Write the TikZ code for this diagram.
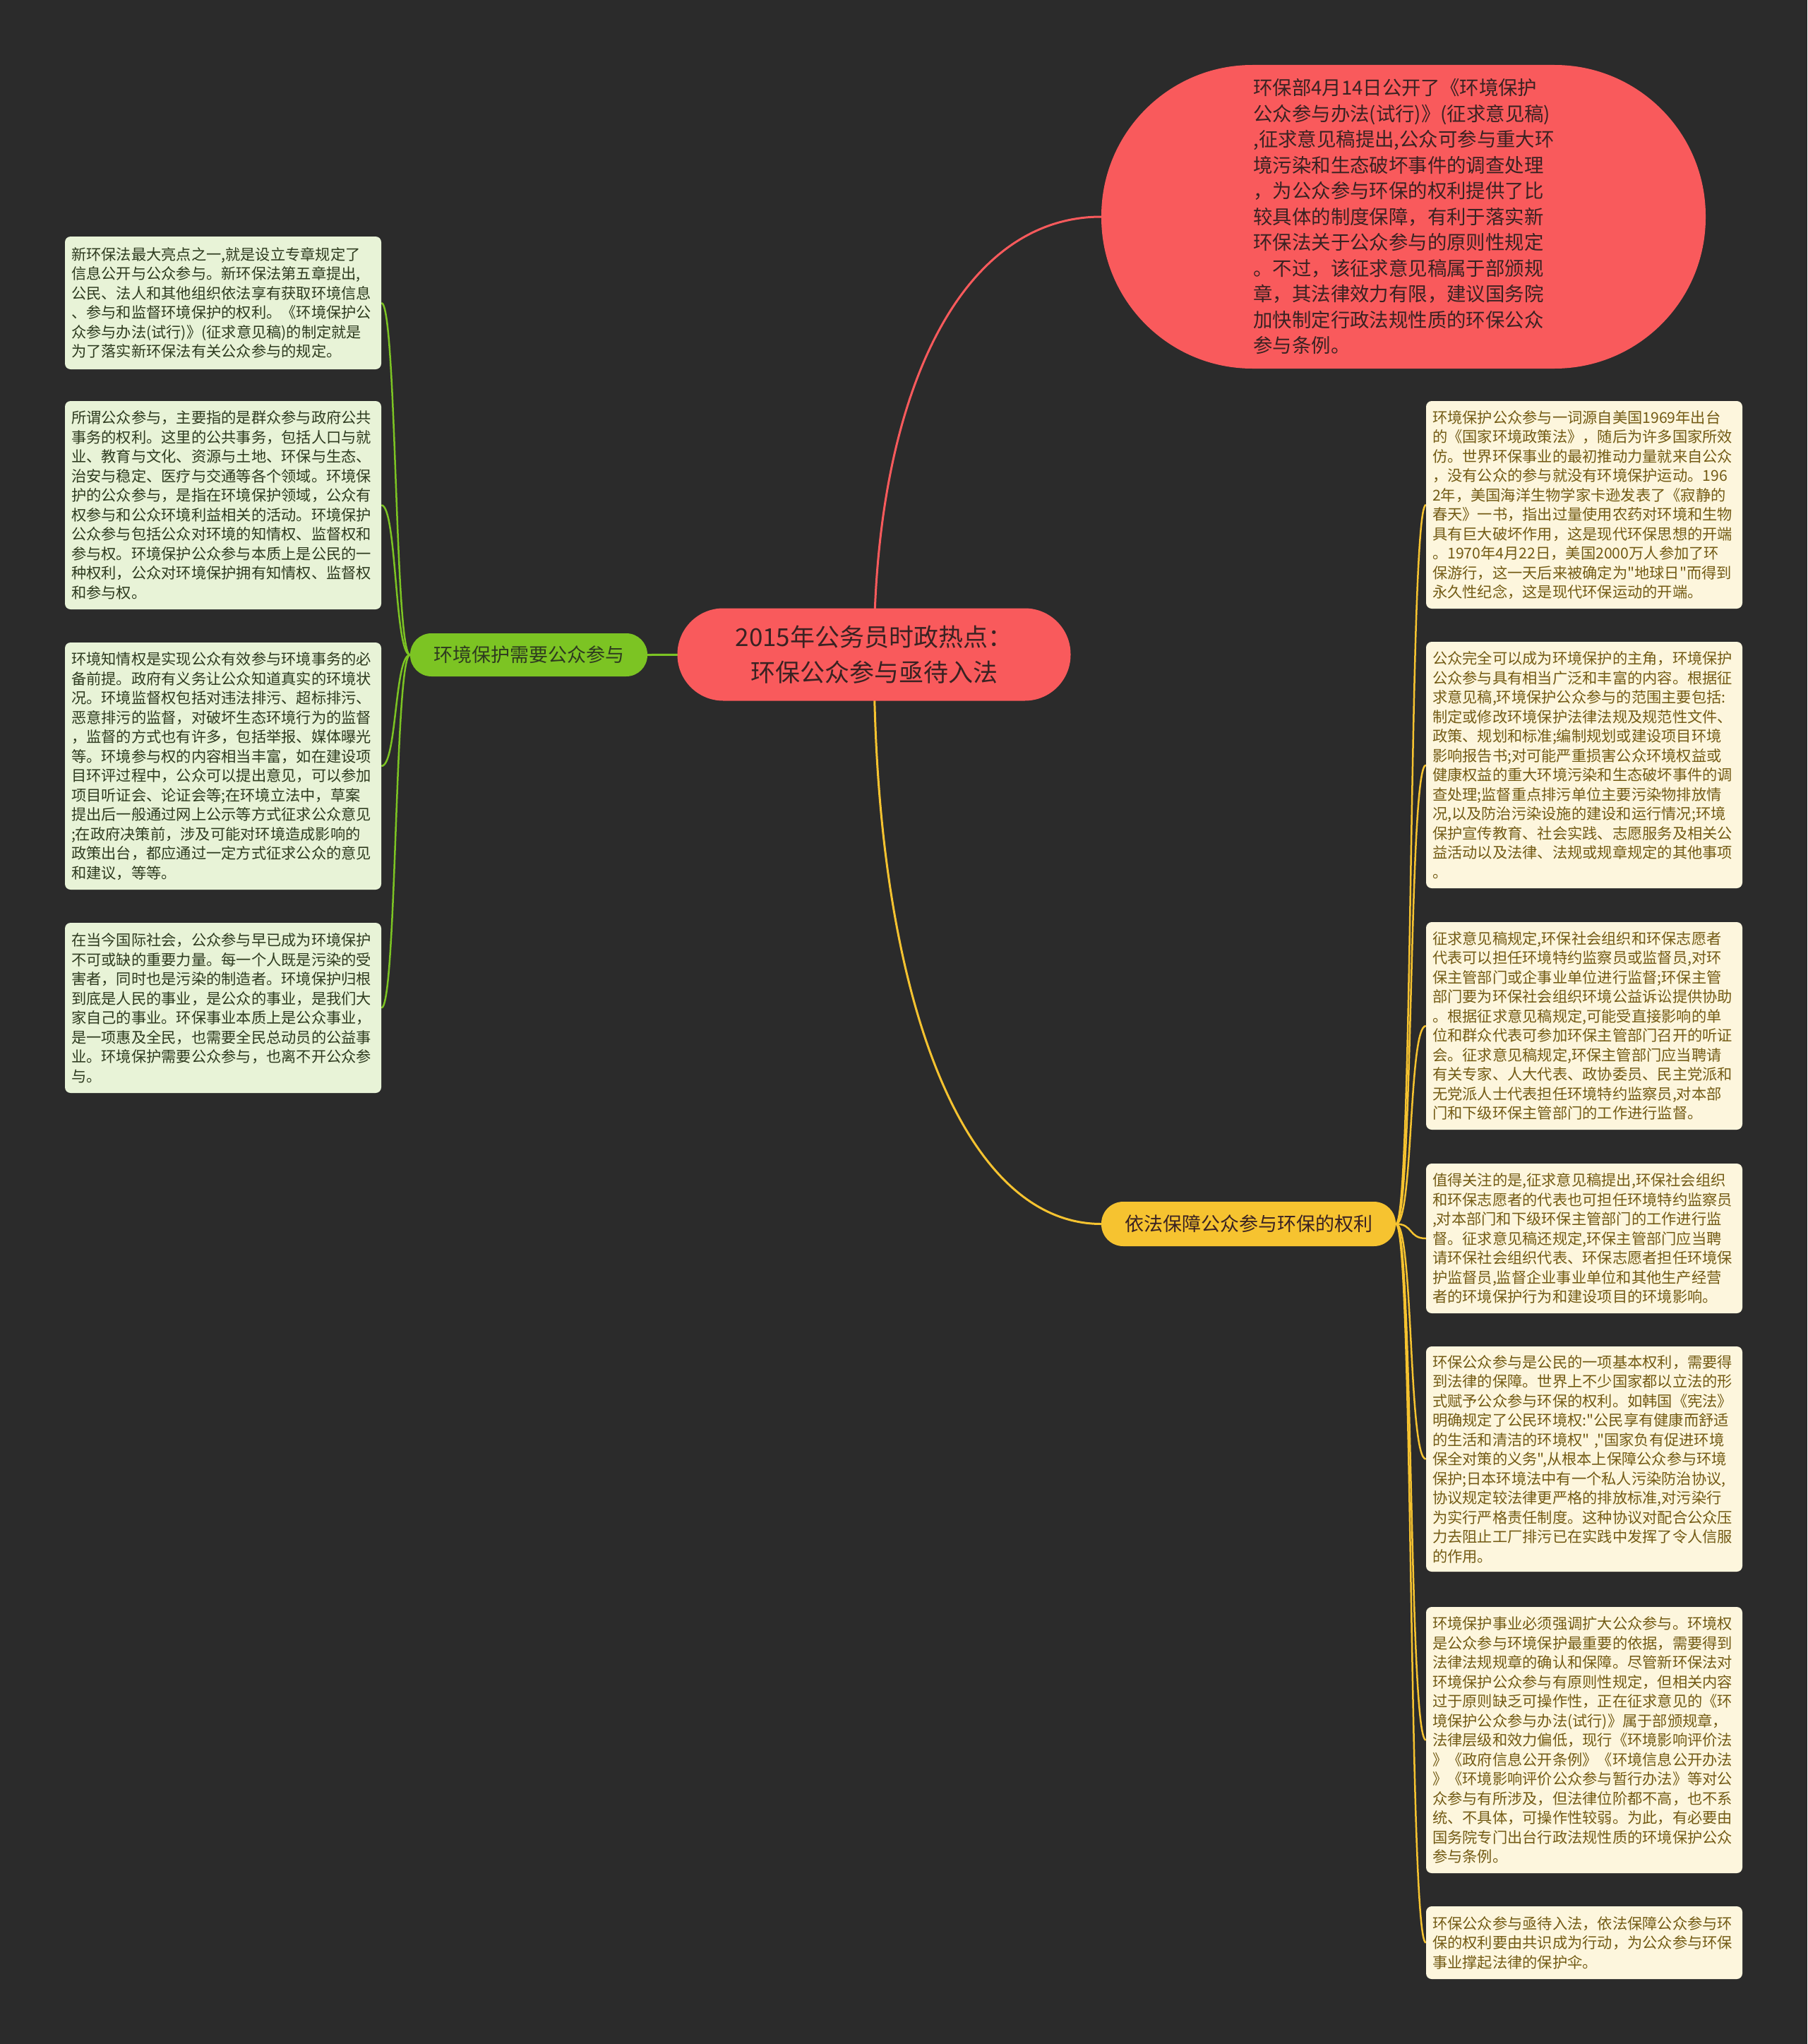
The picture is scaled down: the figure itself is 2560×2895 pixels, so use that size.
\documentclass[tikz,border=0pt]{standalone}
\usepackage{fontspec}
\newfontfamily\cjk{Noto Sans CJK SC}
\pgfdeclarelayer{bg}
\pgfdeclarelayer{edges}
\pgfsetlayers{bg,edges,main}
\definecolor{bgc}{HTML}{2B2B2B}
\definecolor{redc}{HTML}{F95A5C}
\definecolor{grnc}{HTML}{7CC423}
\definecolor{yelc}{HTML}{F6C330}
\definecolor{lfill}{HTML}{E8F3D7}
\definecolor{rfill}{HTML}{FDF6DD}
\definecolor{ltext}{HTML}{2E3B1F}
\definecolor{rtext}{HTML}{735B14}
\definecolor{darktext}{HTML}{3A2222}
\tikzset{
  rootn/.style={fill=redc, rounded corners=65pt, minimum width=557pt, minimum height=131pt,
    align=center, text=darktext, font={\cjk\fontsize{35}{50}\selectfont}},
  topn/.style={fill=redc, rounded corners=214pt, minimum width=856pt, minimum height=430pt,
    text width=425pt, align=left, text=darktext, font={\cjk\fontsize{27.4}{36.5}\selectfont}},
  greenb/.style={fill=grnc, rounded corners=30pt, minimum width=336pt, minimum height=61pt,
    text=ltext, font={\cjk\fontsize{27}{32}\selectfont}},
  yellowb/.style={fill=yelc, rounded corners=31pt, minimum width=417pt, minimum height=63pt,
    text=darktext, font={\cjk\fontsize{27}{32}\selectfont}},
  lbox/.style={fill=lfill, rounded corners=8pt, minimum width=448pt, text width=430pt,
    inner xsep=9pt, align=left, text=ltext, font={\cjk\fontsize{21.25}{27.5}\selectfont}},
  rbox/.style={fill=rfill, rounded corners=8pt, minimum width=448pt, text width=430pt,
    inner xsep=9pt, align=left, text=rtext, font={\cjk\fontsize{21.25}{27.5}\selectfont}},
  mainline/.style={line width=3pt},
  subline/.style={line width=2.5pt}
}
\begin{document}
\begin{tikzpicture}[x=1pt,y=-1pt]
\begin{pgfonlayer}{bg}
\fill[bgc] (0,0) rectangle (2560,2895);
\end{pgfonlayer}
\useasboundingbox (0,0) rectangle (2560,2895);

\node[rootn] (root) at (1238,927) {2015年公务员时政热点：\\环保公众参与亟待入法};

\node[topn] (t1) at (1988,307) {环保部4月14日公开了《环境保护\\公众参与办法(试行)》(征求意见稿)\\,征求意见稿提出,公众可参与重大环\\境污染和生态破坏事件的调查处理\\，为公众参与环保的权利提供了比\\较具体的制度保障，有利于落实新\\环保法关于公众参与的原则性规定\\。不过，该征求意见稿属于部颁规\\章，其法律效力有限，建议国务院\\加快制定行政法规性质的环保公众\\参与条例。};

\node[greenb] (gb) at (749,927.5) {环境保护需要公众参与};
\node[yellowb] (yb) at (1768.5,1733.5) {依法保障公众参与环保的权利};

\node[lbox, minimum height=188pt] (l1) at (316,429) {新环保法最大亮点之一,就是设立专章规定了\\信息公开与公众参与。新环保法第五章提出,\\公民、法人和其他组织依法享有获取环境信息\\、参与和监督环境保护的权利。《环境保护公\\众参与办法(试行)》(征求意见稿)的制定就是\\为了落实新环保法有关公众参与的规定。};

\node[lbox, minimum height=295pt] (l2) at (316,715.5) {所谓公众参与，主要指的是群众参与政府公共\\事务的权利。这里的公共事务，包括人口与就\\业、教育与文化、资源与土地、环保与生态、\\治安与稳定、医疗与交通等各个领域。环境保\\护的公众参与，是指在环境保护领域，公众有\\权参与和公众环境利益相关的活动。环境保护\\公众参与包括公众对环境的知情权、监督权和\\参与权。环境保护公众参与本质上是公民的一\\种权利，公众对环境保护拥有知情权、监督权\\和参与权。};

\node[lbox, minimum height=350pt] (l3) at (316,1085) {环境知情权是实现公众有效参与环境事务的必\\备前提。政府有义务让公众知道真实的环境状\\况。环境监督权包括对违法排污、超标排污、\\恶意排污的监督，对破坏生态环境行为的监督\\，监督的方式也有许多，包括举报、媒体曝光\\等。环境参与权的内容相当丰富，如在建设项\\目环评过程中，公众可以提出意见，可以参加\\项目听证会、论证会等;在环境立法中，草案\\提出后一般通过网上公示等方式征求公众意见\\;在政府决策前，涉及可能对环境造成影响的\\政策出台，都应通过一定方式征求公众的意见\\和建议，等等。};

\node[lbox, minimum height=241pt] (l4) at (316,1427.5) {在当今国际社会，公众参与早已成为环境保护\\不可或缺的重要力量。每一个人既是污染的受\\害者，同时也是污染的制造者。环境保护归根\\到底是人民的事业，是公众的事业，是我们大\\家自己的事业。环保事业本质上是公众事业，\\是一项惠及全民，也需要全民总动员的公益事\\业。环境保护需要公众参与，也离不开公众参\\与。};

\node[rbox, minimum height=294pt] (r1) at (2244,715) {环境保护公众参与一词源自美国1969年出台\\的《国家环境政策法》，随后为许多国家所效\\仿。世界环保事业的最初推动力量就来自公众\\，没有公众的参与就没有环境保护运动。196\\2年，美国海洋生物学家卡逊发表了《寂静的\\春天》一书，指出过量使用农药对环境和生物\\具有巨大破坏作用，这是现代环保思想的开端\\。1970年4月22日，美国2000万人参加了环\\保游行，这一天后来被确定为"地球日"而得到\\永久性纪念，这是现代环保运动的开端。};

\node[rbox, minimum height=349pt] (r2) at (2244,1083.5) {公众完全可以成为环境保护的主角，环境保护\\公众参与具有相当广泛和丰富的内容。根据征\\求意见稿,环境保护公众参与的范围主要包括:\\制定或修改环境保护法律法规及规范性文件、\\政策、规划和标准;编制规划或建设项目环境\\影响报告书;对可能严重损害公众环境权益或\\健康权益的重大环境污染和生态破坏事件的调\\查处理;监督重点排污单位主要污染物排放情\\况,以及防治污染设施的建设和运行情况;环境\\保护宣传教育、社会实践、志愿服务及相关公\\益活动以及法律、法规或规章规定的其他事项\\。};

\node[rbox, minimum height=294pt] (r3) at (2244,1453) {征求意见稿规定,环保社会组织和环保志愿者\\代表可以担任环境特约监察员或监督员,对环\\保主管部门或企事业单位进行监督;环保主管\\部门要为环保社会组织环境公益诉讼提供协助\\。根据征求意见稿规定,可能受直接影响的单\\位和群众代表可参加环保主管部门召开的听证\\会。征求意见稿规定,环保主管部门应当聘请\\有关专家、人大代表、政协委员、民主党派和\\无党派人士代表担任环境特约监察员,对本部\\门和下级环保主管部门的工作进行监督。};

\node[rbox, minimum height=212pt] (r4) at (2244,1754) {值得关注的是,征求意见稿提出,环保社会组织\\和环保志愿者的代表也可担任环境特约监察员\\,对本部门和下级环保主管部门的工作进行监\\督。征求意见稿还规定,环保主管部门应当聘\\请环保社会组织代表、环保志愿者担任环境保\\护监督员,监督企业事业单位和其他生产经营\\者的环境保护行为和建设项目的环境影响。};

\node[rbox, minimum height=319pt] (r5) at (2244,2066.5) {环保公众参与是公民的一项基本权利，需要得\\到法律的保障。世界上不少国家都以立法的形\\式赋予公众参与环保的权利。如韩国《宪法》\\明确规定了公民环境权:"公民享有健康而舒适\\的生活和清洁的环境权" ,"国家负有促进环境\\保全对策的义务",从根本上保障公众参与环境\\保护;日本环境法中有一个私人污染防治协议,\\协议规定较法律更严格的排放标准,对污染行\\为实行严格责任制度。这种协议对配合公众压\\力去阻止工厂排污已在实践中发挥了令人信服\\的作用。};

\node[rbox, minimum height=377pt] (r6) at (2244,2464.5) {环境保护事业必须强调扩大公众参与。环境权\\是公众参与环境保护最重要的依据，需要得到\\法律法规规章的确认和保障。尽管新环保法对\\环境保护公众参与有原则性规定，但相关内容\\过于原则缺乏可操作性，正在征求意见的《环\\境保护公众参与办法(试行)》属于部颁规章，\\法律层级和效力偏低，现行《环境影响评价法\\》《政府信息公开条例》《环境信息公开办法\\》《环境影响评价公众参与暂行办法》等对公\\众参与有所涉及，但法律位阶都不高，也不系\\统、不具体，可操作性较弱。为此，有必要由\\国务院专门出台行政法规性质的环境保护公众\\参与条例。};

\node[rbox, minimum height=103pt] (r7) at (2244,2751.5) {环保公众参与亟待入法，依法保障公众参与环\\保的权利要由共识成为行动，为公众参与环保\\事业撑起法律的保护伞。};

\begin{pgfonlayer}{edges}
\draw[mainline, redc] (root.center) .. controls (1238,560) and (1360,307) .. (t1.west);
\draw[mainline, yelc] (root.center) .. controls (1238,1400) and (1360,1733.5) .. (yb.west);
\draw[mainline, grnc] (root.center) -- (gb.east);
\foreach \b in {l1,l2,l3,l4}
  \draw[subline, grnc] (gb.west) .. controls +(-22,0) and +(22,0) .. (\b.east);
\foreach \b in {r1,r2,r3,r4,r5,r6,r7}
  \draw[subline, yelc] (yb.east) .. controls +(25,0) and +(-25,0) .. (\b.west);
\end{pgfonlayer}
\end{tikzpicture}
\end{document}
